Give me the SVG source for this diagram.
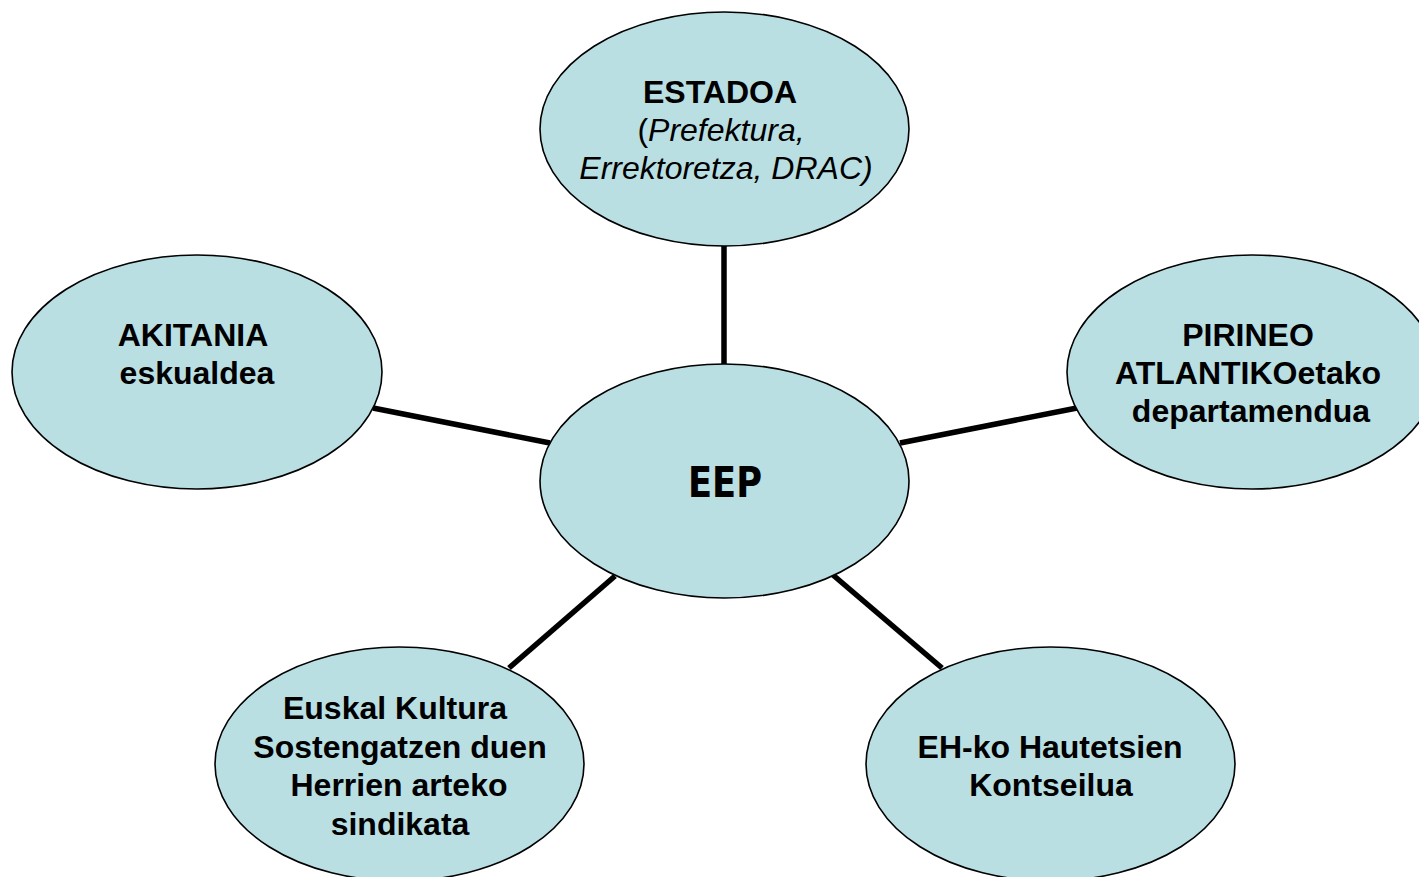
<svg xmlns="http://www.w3.org/2000/svg" width="1419" height="877" viewBox="0 0 1419 877">
<style>
.node{fill:#B9DFE3;stroke:#000;stroke-width:1.6}
.conn{stroke:#000;stroke-width:5.5;stroke-linecap:butt}
.t{font-family:"Liberation Sans",Arial,sans-serif;font-size:32px;font-weight:bold;fill:#000;text-anchor:middle}
.i{font-family:"Liberation Sans",Arial,sans-serif;font-size:32px;font-weight:normal;fill:#000;text-anchor:middle}
.it{font-style:italic}
.eep{font-family:"DejaVu Sans Condensed","DejaVu Sans",Verdana,sans-serif;font-size:42px;font-weight:bold;fill:#000;text-anchor:middle}
</style>
<rect width="1419" height="877" fill="#fff"/>
<g id="connectors">
<line class="conn" x1="724" y1="246" x2="724" y2="364"/>
<line class="conn" x1="373" y1="408" x2="550" y2="443"/>
<line class="conn" x1="900" y1="443" x2="1077" y2="408"/>
<line class="conn" x1="615" y1="576" x2="509" y2="668"/>
<line class="conn" x1="833" y1="575" x2="942" y2="668"/>
</g>
<g id="estadoa">
<ellipse class="node" cx="724.5" cy="129" rx="184.5" ry="117"/>
<text class="t" x="720" y="103">ESTADOA</text>
<text class="i" x="721" y="141">(<tspan class="it">Prefektura,</tspan></text>
<text class="i it" x="726" y="179">Errektoretza, DRAC)</text>
</g>
<g id="eep">
<ellipse class="node" cx="724.5" cy="481" rx="184.5" ry="117"/>
<text class="eep" x="725" y="497" textLength="74" lengthAdjust="spacingAndGlyphs">EEP</text>
</g>
<g id="akitania">
<ellipse class="node" cx="197" cy="372" rx="185" ry="117"/>
<text class="t" x="193" y="346">AKITANIA</text>
<text class="t" x="197" y="384">eskualdea</text>
</g>
<g id="pirineo">
<ellipse class="node" cx="1252" cy="372" rx="185" ry="117"/>
<text class="t" x="1248" y="346">PIRINEO</text>
<text class="t" x="1248" y="384">ATLANTIKOetako</text>
<text class="t" x="1251" y="422">departamendua</text>
</g>
<g id="euskal">
<ellipse class="node" cx="399.5" cy="764" rx="184.5" ry="117"/>
<text class="t" x="395" y="719">Euskal Kultura</text>
<text class="t" x="400" y="758">Sostengatzen duen</text>
<text class="t" x="399" y="796">Herrien arteko</text>
<text class="t" x="400" y="835">sindikata</text>
</g>
<g id="ehko">
<ellipse class="node" cx="1050.5" cy="764" rx="184.5" ry="117"/>
<text class="t" x="1050" y="758">EH-ko Hautetsien</text>
<text class="t" x="1051" y="796">Kontseilua</text>
</g>
</svg>
